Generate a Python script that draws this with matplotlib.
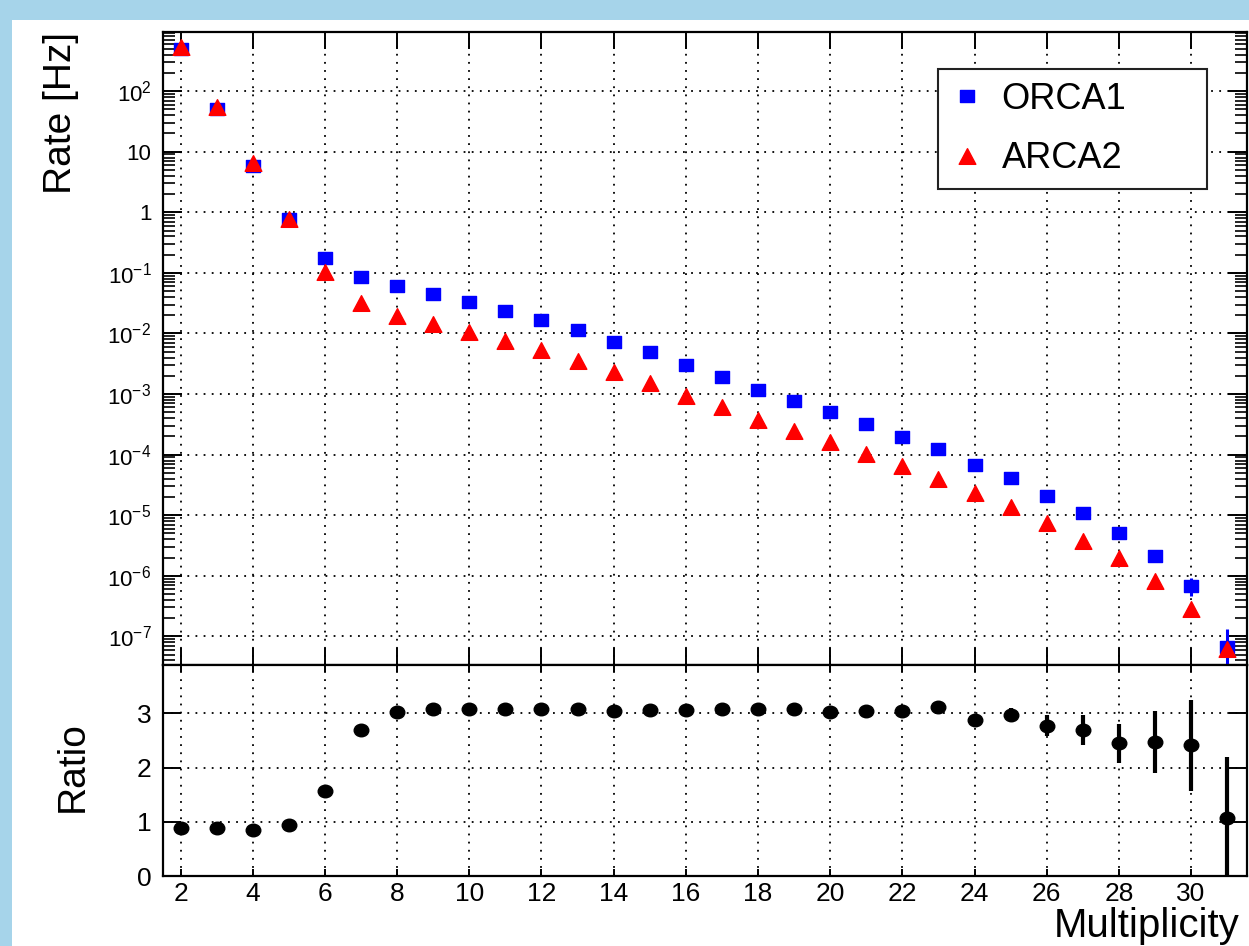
import numpy as np
import matplotlib.pyplot as plt
from matplotlib.patches import Rectangle
from matplotlib.path import Path
from matplotlib.ticker import FixedLocator, FixedFormatter, LogLocator, NullFormatter, MultipleLocator

plt.rcParams['font.family'] = ['Liberation Sans', 'DejaVu Sans']
plt.rcParams['mathtext.fontset'] = 'custom'
plt.rcParams['mathtext.rm'] = 'Liberation Sans'
plt.rcParams['mathtext.it'] = 'Liberation Sans:italic'
plt.rcParams['mathtext.bf'] = 'Liberation Sans:bold'
plt.rcParams['mathtext.default'] = 'regular'

# multiplicidade e taxas
multiplicity = list(range(2, 32))
orca1 = [500, 49.8, 5.85, 0.775, 0.173, 0.0865, 0.061, 0.0455, 0.0335, 0.0232,
         0.0165, 0.0112, 0.0073, 0.0049, 0.00307, 0.0019, 0.00118, 7.7e-4, 5.0e-4, 3.2e-4,
         1.96e-4, 1.23e-4, 6.8e-5, 4.1e-5, 2.1e-5, 1.1e-5, 5.1e-6, 2.1e-6, 6.9e-7, 6.8e-8]
orca1_err = [0] * 28 + [2.2e-7, 6.2e-8]
arca2 = [540, 53.7, 6.6, 0.78, 0.105, 0.0323, 0.0192, 0.0146, 0.0105, 0.0074,
         0.0053, 0.0035, 0.00232, 0.00151, 9.4e-4, 6.0e-4, 3.75e-4, 2.45e-4, 1.63e-4, 1.02e-4,
         6.4e-5, 3.9e-5, 2.3e-5, 1.35e-5, 7.4e-6, 3.8e-6, 2.0e-6, 8.1e-7, 2.8e-7, 6.2e-8]
ratio = [0.88, 0.88, 0.84, 0.935, 1.57, 2.69, 3.02, 3.07, 3.07, 3.07,
         3.07, 3.07, 3.05, 3.06, 3.06, 3.07, 3.08, 3.085, 3.02, 3.04,
         3.04, 3.12, 2.88, 2.97, 2.77, 2.69, 2.45, 2.47, 2.41, 1.07]
ratio_err = [0] * 21 + [0.05, 0.05, 0.13, 0.19, 0.28, 0.36, 0.57, 0.84, 1.12]

rate_ticks = [1e-7, 1e-6, 1e-5, 1e-4, 1e-3, 1e-2, 1e-1, 1, 10, 100]
rate_labels = [r'$10^{-7}$', r'$10^{-6}$', r'$10^{-5}$', r'$10^{-4}$', r'$10^{-3}$',
               r'$10^{-2}$', r'$10^{-1}$', '1', '10', r'$10^{2}$']

# marcadores um pouco achatados, como na figura original
sq = Path([(-0.58, -0.5), (0.58, -0.5), (0.58, 0.5), (-0.58, 0.5), (-0.58, -0.5)],
          [1, 2, 2, 2, 79])
tri = Path([(0, 0.47), (0.5, -0.47), (-0.5, -0.47), (0, 0.47)], [1, 2, 2, 79])
circ = Path.unit_circle().transformed(plt.matplotlib.transforms.Affine2D().scale(1.0, 0.86))

fig = plt.figure(figsize=(12.49, 9.46), dpi=100)
fig.patch.set_facecolor('#a6d4ea')
fig.patches.append(Rectangle((12 / 1249, 0), 1, 1 - 20 / 946, transform=fig.transFigure,
                             facecolor='white', edgecolor='none', zorder=-10))

left, width = 162.5 / 1249, (1247 - 162.5) / 1249
ax1 = fig.add_axes([left, 1 - 665 / 946, width, (665 - 32) / 946])
ax2 = fig.add_axes([left, 1 - 876 / 946, width, (876 - 665) / 946], sharex=ax1)

ax1.errorbar(multiplicity, orca1, yerr=orca1_err, fmt='none', ecolor='blue', elinewidth=2.2, zorder=3)
ax1.plot(multiplicity, orca1, ls='none', marker=sq, ms=10.5, color='blue', mec='blue', label='ORCA1', zorder=4)
ax1.plot(multiplicity, arca2, ls='none', marker=tri, ms=12, color='red', mec='red', label='ARCA2', zorder=5)
ax1.set_yscale('log')
ax1.set_ylim(3.37e-8, 946)
ax1.set_xlim(1.5, 31.55)
ax1.yaxis.set_major_locator(FixedLocator(rate_ticks))
ax1.yaxis.set_major_formatter(FixedFormatter(rate_labels))
ax1.yaxis.set_minor_locator(LogLocator(base=10, subs=np.arange(2, 10), numticks=30))
ax1.yaxis.set_minor_formatter(NullFormatter())
ax1.xaxis.set_major_locator(MultipleLocator(2))
ax1.tick_params(axis='x', labelbottom=False)
ax1.tick_params(which='both', direction='in', top=True, right=True, width=1.4, colors='black')
ax1.tick_params(which='major', axis='y', length=14, labelsize=16, pad=8)
ax1.tick_params(which='minor', axis='y', length=8.5, width=1.2)
ax1.tick_params(which='major', axis='x', length=12)
ax1.grid(True, which='major', color='black', ls=(0, (1, 3.5)), lw=1.3)
ax1.set_ylabel('Rate [Hz]', fontsize=28, loc='top')
ax1.yaxis.set_label_coords(-0.077, 1.0)

leg = ax1.legend(loc='upper left', bbox_to_anchor=(0.715, 0.752, 0.248, 0.19), mode='expand',
                 fontsize=26, frameon=True, fancybox=False, framealpha=1, edgecolor='#222222',
                 borderpad=0.36, handlelength=0.9, handletextpad=0.5, labelspacing=0.68,
                 borderaxespad=0, numpoints=1)
leg.get_frame().set_linewidth(1.5)

ax2.errorbar(multiplicity, ratio, yerr=ratio_err, fmt='none', ecolor='black', elinewidth=3, zorder=3)
ax2.plot(multiplicity, ratio, ls='none', marker=circ, ms=10.5, color='black', zorder=4)
ax2.set_ylim(0, 3.89)
ax2.yaxis.set_major_locator(FixedLocator([0, 1, 2, 3]))
ax2.xaxis.set_major_locator(MultipleLocator(2))
ax2.tick_params(which='both', direction='in', top=True, right=True, width=1.4, colors='black')
ax2.tick_params(axis='y', length=13, labelsize=19, pad=8)
ax2.tick_params(axis='x', length=5, labelsize=19, pad=4)
ax2.grid(True, which='major', color='black', ls=(0, (1, 3.5)), lw=1.3)
ax2.set_ylabel('Ratio', fontsize=28)
ax2.yaxis.set_label_coords(-0.066, 0.52)
ax2.set_xlabel('Multiplicity', fontsize=29, loc='right')
ax2.xaxis.set_label_coords(0.9935, -0.148)

for ax in (ax1, ax2):
    for sp in ax.spines.values():
        sp.set_linewidth(1.6)
        sp.set_color('black')

fig.savefig('out.png', dpi=100, facecolor=fig.get_facecolor())
